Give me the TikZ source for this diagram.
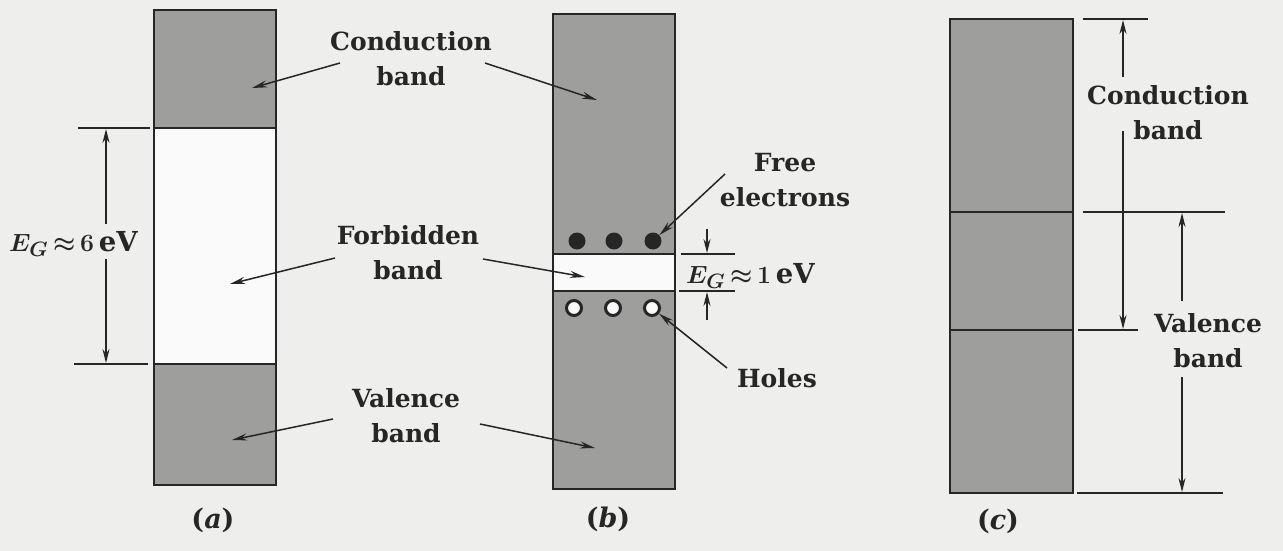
\documentclass[tikz,border=0pt]{standalone}
\usepackage{fontspec}
\setmainfont{DejaVu Serif}
\usetikzlibrary{arrows.meta}
\definecolor{paper}{RGB}{238,238,236}
\definecolor{bandgray}{RGB}{158,158,156}
\definecolor{gapwhite}{RGB}{250,250,250}
\definecolor{ink}{RGB}{38,38,38}
\begin{document}
\begin{tikzpicture}[x=1pt,y=-1pt,
  lbl/.style={font=\fontsize{25}{35}\selectfont\bfseries, align=center, text=ink, inner sep=0pt},
  mlbl/.style={font=\fontsize{27.5}{32}\selectfont\boldmath, text=ink, inner sep=0pt},
  panelcap/.style={font=\fontsize{27}{30}\selectfont\bfseries, text=ink, inner sep=0pt},
  boxline/.style={draw=ink, line width=2.6pt},
  midline/.style={draw=ink, line width=2pt},
  dimline/.style={draw=ink, line width=1.4pt},
  ptr/.style={draw=ink, line width=1.5pt, -{Stealth[length=15pt,width=7pt]}},
  dimarrow/.style={draw=ink, line width=1.4pt, -{Stealth[length=14pt,width=7pt]}},
  elec/.style={circle, fill=ink, minimum size=17pt, inner sep=0pt},
  hole/.style={circle, draw=ink, fill=gapwhite, line width=3pt, minimum size=15pt, inner sep=0pt},
]
\fill[paper] (0,0) rectangle (1283,551);
\useasboundingbox (0,0) rectangle (1283,551);

% ---------- panel (a) ----------
\fill[bandgray] (154,10) rectangle (276,128);
\fill[gapwhite] (154,128) rectangle (276,364);
\fill[bandgray] (154,364) rectangle (276,485);
\draw[boxline] (154,10) rectangle (276,485);
\draw[midline] (154,128) -- (276,128);
\draw[midline] (154,364) -- (276,364);

\coordinate (a-t1) at (78,128);  \coordinate (a-t2) at (150,128);
\coordinate (a-b1) at (74,364);  \coordinate (a-b2) at (148,364);
\draw[dimline] (a-t1) -- (a-t2);
\draw[dimline] (a-b1) -- (a-b2);
\coordinate (a-us) at (106,224); \coordinate (a-ue) at (106,129);
\coordinate (a-ls) at (106,259); \coordinate (a-le) at (106,363);
\draw[dimarrow] (a-us) -- (a-ue);
\draw[dimarrow] (a-ls) -- (a-le);
\node[mlbl, anchor=base west] (ega) at (9,251) {$E_G\,{\approx}\,6\,\mathrm{eV}$};

\node[lbl] (cond) at (411,59) {Conduction\\band};
\node[lbl] (forb) at (408,253) {Forbidden\\band};
\node[lbl] (val) at (406,416) {Valence\\band};

\coordinate (ca-s) at (340,63);  \coordinate (ca-e) at (252,88);
\coordinate (fa-s) at (335,258); \coordinate (fa-e) at (230,284);
\coordinate (va-s) at (333,419); \coordinate (va-e) at (232,440);
\draw[ptr] (ca-s) -- (ca-e);
\draw[ptr] (fa-s) -- (fa-e);
\draw[ptr] (va-s) -- (va-e);

\node[panelcap, anchor=base] (capa) at (213,528) {(\textit{a})};

% ---------- panel (b) ----------
\fill[bandgray] (553,14) rectangle (675,489);
\fill[gapwhite] (553,254) rectangle (675,291);
\draw[boxline] (553,14) rectangle (675,489);
\draw[midline] (553,254) -- (675,254);
\draw[midline] (553,291) -- (675,291);

\node[elec] (e1) at (577,241) {};
\node[elec] (e2) at (614,241) {};
\node[elec] (e3) at (653,241) {};
\node[hole] (h1) at (574,308) {};
\node[hole] (h2) at (613,308) {};
\node[hole] (h3) at (652,308) {};

\coordinate (cb-s) at (485,63);  \coordinate (cb-e) at (597,100);
\coordinate (fb-s) at (483,259); \coordinate (fb-e) at (585,277);
\coordinate (vb-s) at (480,424); \coordinate (vb-e) at (595,448);
\draw[ptr] (cb-s) -- (cb-e);
\draw[ptr] (fb-s) -- (fb-e);
\draw[ptr] (vb-s) -- (vb-e);

\node[lbl] (free) at (785,180) {Free\\electrons};
\node[lbl, anchor=base] (holes) at (777,387) {Holes};
\coordinate (fe-s) at (725,174);
\coordinate (ho-s) at (727,368);
\draw[ptr] (fe-s) -- (e3);
\draw[ptr] (ho-s) -- (h3);

\coordinate (b-t1) at (681,254); \coordinate (b-t2) at (735,254);
\coordinate (b-b1) at (679,291); \coordinate (b-b2) at (735,291);
\draw[dimline] (b-t1) -- (b-t2);
\draw[dimline] (b-b1) -- (b-b2);
\coordinate (b-us) at (707,229); \coordinate (b-ue) at (707,253);
\coordinate (b-ls) at (707,320); \coordinate (b-le) at (707,292);
\draw[dimarrow] (b-us) -- (b-ue);
\draw[dimarrow] (b-ls) -- (b-le);
\node[mlbl, anchor=base west] (egb) at (686,283) {$E_G\,{\approx}\,1\,\mathrm{eV}$};

\node[panelcap, anchor=base] (capb) at (608,527) {(\textit{b})};

% ---------- panel (c) ----------
\fill[bandgray] (950,19) rectangle (1073,493);
\draw[boxline] (950,19) rectangle (1073,493);
\draw[midline] (950,212) -- (1073,212);
\draw[midline] (950,330) -- (1073,330);

\coordinate (c-l1a) at (1083,19);  \coordinate (c-l1b) at (1148,19);
\coordinate (c-l2a) at (1083,212); \coordinate (c-l2b) at (1225,212);
\coordinate (c-l3a) at (1078,330); \coordinate (c-l3b) at (1138,330);
\coordinate (c-l4a) at (1077,493); \coordinate (c-l4b) at (1223,493);
\draw[dimline] (c-l1a) -- (c-l1b);
\draw[dimline] (c-l2a) -- (c-l2b);
\draw[dimline] (c-l3a) -- (c-l3b);
\draw[dimline] (c-l4a) -- (c-l4b);

\coordinate (cc-us) at (1123,77);  \coordinate (cc-ue) at (1123,20);
\coordinate (cc-ls) at (1123,131); \coordinate (cc-le) at (1123,329);
\coordinate (cv-us) at (1182,301); \coordinate (cv-ue) at (1182,213);
\coordinate (cv-ls) at (1182,377); \coordinate (cv-le) at (1182,492);
\draw[dimarrow] (cc-us) -- (cc-ue);
\draw[dimarrow] (cc-ls) -- (cc-le);
\draw[dimarrow] (cv-us) -- (cv-ue);
\draw[dimarrow] (cv-ls) -- (cv-le);

\node[lbl] (condc) at (1168,113) {Conduction\\band};
\node[lbl] (valc) at (1208,341) {Valence\\band};

\node[panelcap, anchor=base] (capc) at (998,529) {(\textit{c})};
\end{tikzpicture}
\end{document}
